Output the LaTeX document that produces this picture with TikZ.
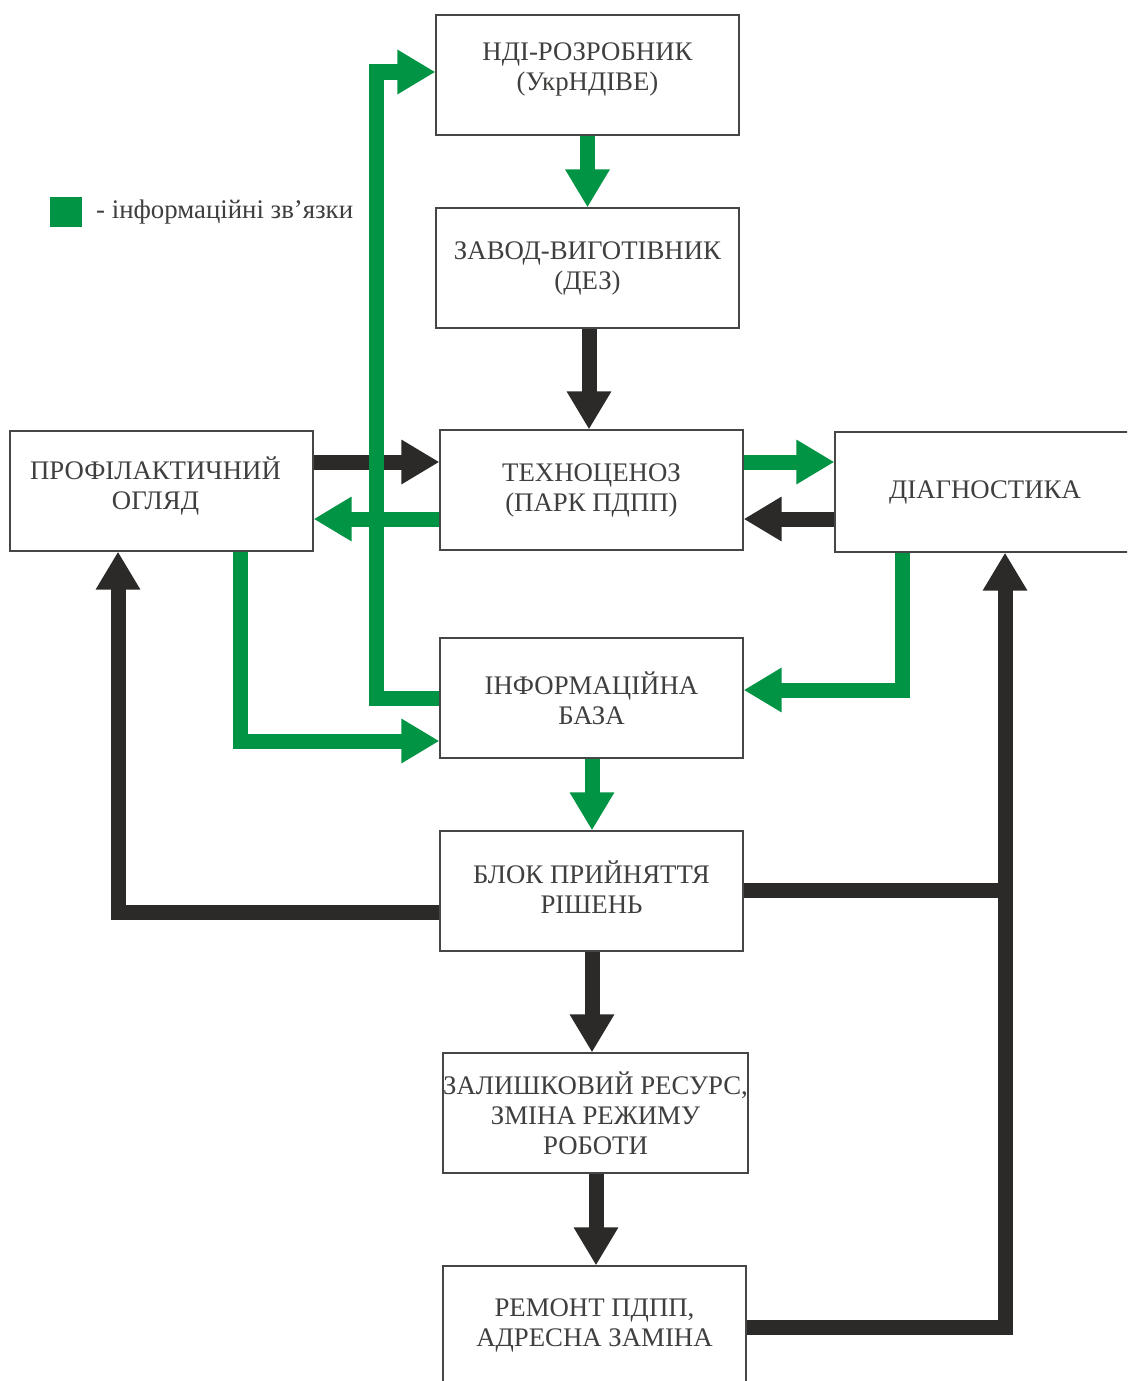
\documentclass[tikz,border=0pt]{standalone}
\usepackage{fontspec}
\setmainfont{Liberation Serif}
\usetikzlibrary{arrows.meta}
\definecolor{gr}{RGB}{0,148,68}
\definecolor{bk}{RGB}{43,42,41}
\definecolor{boxc}{RGB}{70,70,70}
\tikzset{
  box/.style={draw=boxc, line width=1.3pt, fill=white, minimum width=303pt, minimum height=120pt,
    align=center, inner sep=0pt, font=\fontsize{26.8pt}{30pt}\selectfont, text=bk!90},
  flow/.style={line width=15pt, line join=miter, line cap=butt, -{Triangle[width=42pt,length=38pt]}},
  garr/.style={flow, draw=gr},
  barr/.style={flow, draw=bk},
  gline/.style={line width=15pt, line join=miter, line cap=butt, draw=gr},
  bline/.style={line width=15pt, line join=miter, line cap=butt, draw=bk}
}
\begin{document}
\begin{tikzpicture}[x=1pt,y=-1pt]
\clip (0,0) rectangle (1127,1381);
\fill[white] (0,0) rectangle (1127,1381);
% boxes
\node[box] (ndi)  at (587.5,75)  {НДІ-РОЗРОБНИК\\(УкрНДІВЕ)\\[-14pt]};
\node[box] (zavod) at (587.5,268) {ЗАВОД-ВИГОТІВНИК\\(ДЕЗ)};
\node[box] (tech) at (591.5,490) {ТЕХНОЦЕНОЗ\\(ПАРК ПДПП)};
\node[box] (prof) at (161.5,491) {\hspace*{-12pt}ПРОФІЛАКТИЧНИЙ\\\hspace*{-12pt}ОГЛЯД\\[-14pt]};
\node[box, minimum width=310pt] (diag) at (990,492) {\hspace*{-10pt}ДІАГНОСТИКА};
\node[box] (info) at (591.5,698) {ІНФОРМАЦІЙНА\\БАЗА};
\node[box] (blok) at (591.5,891) {БЛОК ПРИЙНЯТТЯ\\РІШЕНЬ\\[-22pt]};
\node[box] (zal)  at (595.5,1113) {ЗАЛИШКОВИЙ РЕСУРС,\\ЗМІНА РЕЖИМУ\\РОБОТИ};
\node[box, minimum height=132pt] (rem) at (594.5,1332) {РЕМОНТ ПДПП,\\АДРЕСНА ЗАМІНА\\[-12pt]};
% legend
\node[fill=gr, minimum width=32pt, minimum height=30pt, inner sep=0pt] (lg) at (66,212) {};
\node[anchor=west, inner sep=0pt, font=\fontsize{26.8pt}{30pt}\selectfont, text=bk!90] (lgt) at (96,212) {- інформаційні зв’язки};
% coordinates
\coordinate (c1) at (1005,890);
\coordinate (c2) at (1005,1327);
% black arrows
\draw[barr] (zavod.south -| 589,0) -- (tech.north -| 589,0);
\draw[barr] (prof.east |- 0,462) -- (tech.west |- 0,462);
\draw[barr] (diag.west |- 0,519) -- (tech.east |- 0,519);
\draw[barr] (blok.west |- 0,912) -- (118,912) -- (prof.south -| 118,0);
\draw[bline] (blok.east |- 0,890) -- (c1);
\draw[barr] (rem.east |- 0,1327) -- (c2) -- (diag.south -| c2);
\draw[barr] (blok.south -| 592,0) -- (zal.north -| 592,0);
\draw[barr] (zal.south -| 596,0) -- (rem.north -| 596,0);
% green arrows
\draw[garr] (ndi.south) -- (zavod.north);
\draw[garr] (tech.east |- 0,462) -- (diag.west |- 0,462);
\draw[garr] (tech.west |- 0,519) -- (prof.east |- 0,519);
\draw[garr] (diag.south -| 902,0) -- (902,690) -- (info.east |- 0,690);
\draw[garr] (prof.south -| 240,0) -- (240,741) -- (info.west |- 0,741);
\draw[garr] (info.west |- 0,698) -- (376,698) -- (376,72) -- (ndi.west |- 0,72);
\draw[garr] (info.south -| 592,0) -- (blok.north -| 592,0);
\end{tikzpicture}
\end{document}
